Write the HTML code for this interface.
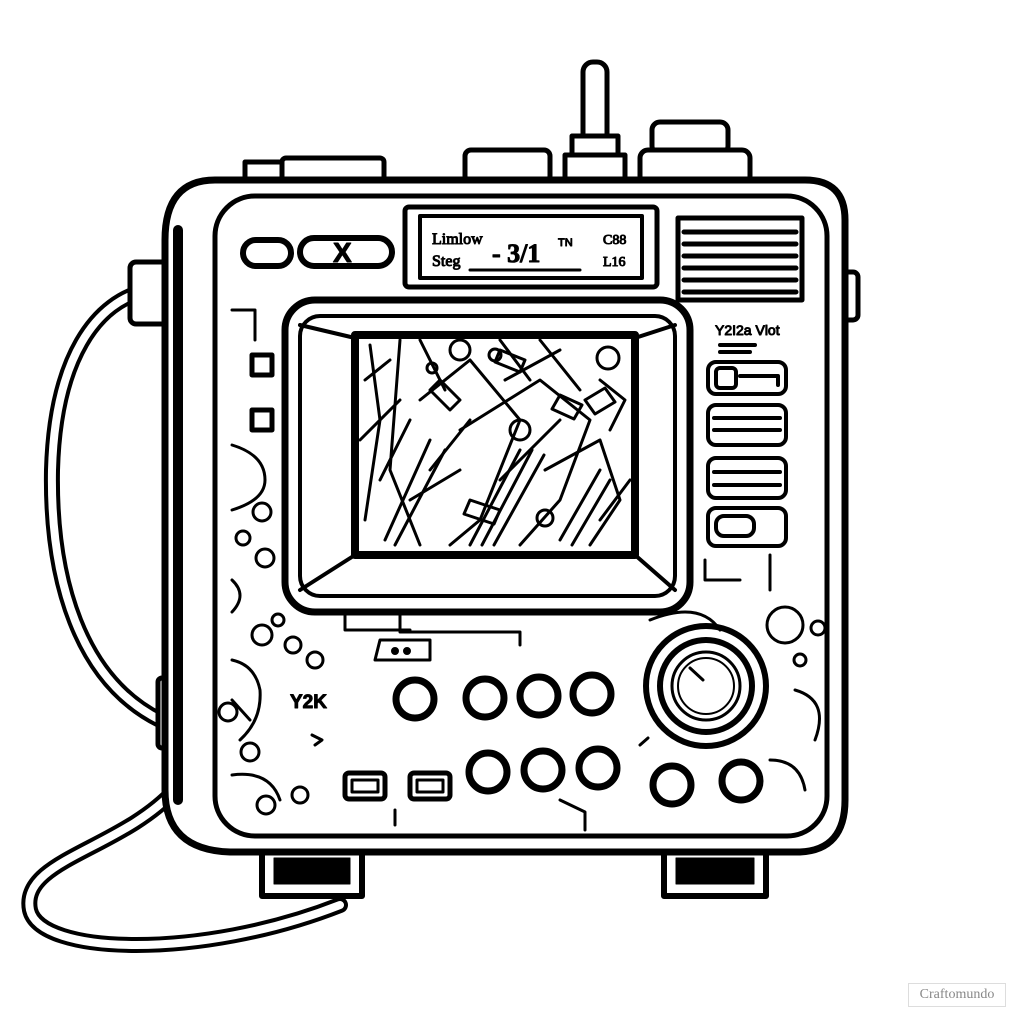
<!DOCTYPE html>
<html><head><meta charset="utf-8"><style>
html,body{margin:0;padding:0;background:#fff;width:1024px;height:1024px;overflow:hidden}
svg{display:block}
text{font-family:"Liberation Sans",sans-serif;fill:#000}
</style></head><body>
<svg width="1024" height="1024" viewBox="0 0 1024 1024" fill="none" stroke="#000" stroke-linecap="round" stroke-linejoin="round">
<!-- cable -->
<path d="M150 290 C95 300 55 360 52 470 C50 580 80 680 160 720" stroke-width="16"/>
<path d="M150 290 C95 300 55 360 52 470 C50 580 80 680 160 720" stroke="#fff" stroke-width="8"/>
<path d="M175 790 C120 850 20 860 30 910 C40 955 200 960 340 905" stroke-width="16"/>
<path d="M175 790 C120 850 20 860 30 910 C40 955 200 960 340 905" stroke="#fff" stroke-width="8"/>
<!-- top parts -->
<rect x="245" y="162" width="40" height="24" stroke-width="5" fill="#fff"/>
<rect x="282" y="158" width="102" height="28" rx="4" stroke-width="5" fill="#fff"/>
<rect x="465" y="150" width="85" height="32" rx="6" stroke-width="5" fill="#fff"/>
<rect x="583" y="62" width="24" height="92" rx="10" stroke-width="5" fill="#fff"/>
<rect x="572" y="136" width="46" height="20" stroke-width="5" fill="#fff"/>
<rect x="565" y="155" width="60" height="28" stroke-width="5" fill="#fff"/>
<rect x="652" y="122" width="76" height="32" rx="8" stroke-width="5" fill="#fff"/>
<rect x="640" y="150" width="110" height="34" rx="8" stroke-width="5" fill="#fff"/>
<!-- side brackets -->
<rect x="130" y="262" width="45" height="62" rx="6" stroke-width="5" fill="#fff"/>
<rect x="838" y="272" width="20" height="48" rx="5" stroke-width="5" fill="#fff"/>
<rect x="158" y="678" width="20" height="70" rx="4" stroke-width="5" fill="#fff"/>
<!-- feet -->
<rect x="262" y="838" width="100" height="58" stroke-width="6" fill="#fff"/>
<rect x="274" y="858" width="76" height="26" fill="#000"/>
<rect x="664" y="838" width="102" height="58" stroke-width="6" fill="#fff"/>
<rect x="676" y="858" width="78" height="26" fill="#000"/>
<!-- body -->
<path d="M215 180 H805 Q845 180 845 220 V800 Q845 850 800 852 H230 Q165 850 165 790 V240 Q165 180 215 180 Z" stroke-width="7" fill="#fff"/>
<path d="M178 230 V800" stroke-width="10"/>
<rect x="215" y="196" width="612" height="640" rx="40" stroke-width="5"/>
<!-- top row -->
<rect x="243" y="240" width="48" height="26" rx="13" stroke-width="6"/>
<rect x="300" y="238" width="92" height="28" rx="14" stroke-width="6"/>
<text x="333" y="262" font-size="28" font-weight="bold">X</text>
<rect x="405" y="207" width="252" height="80" rx="4" stroke-width="5"/>
<rect x="420" y="216" width="222" height="62" stroke-width="4"/>
<g style="font-family:'Liberation Serif',serif">
<text x="432" y="244" font-size="16" style="font-family:'Liberation Serif',serif">Limlow</text>
<text x="432" y="266" font-size="16" style="font-family:'Liberation Serif',serif">Steg</text>
<text x="603" y="244" font-size="14" style="font-family:'Liberation Serif',serif">C88</text>
<text x="603" y="266" font-size="14" style="font-family:'Liberation Serif',serif">L16</text>
</g>
<text x="492" y="262" font-size="26" font-weight="bold" style="font-family:'Liberation Serif',serif">- 3/1</text>
<text x="558" y="246" font-size="11">TN</text>
<path d="M470 270 H580" stroke-width="3"/>
<rect x="678" y="218" width="124" height="82" stroke-width="5"/>
<g stroke-width="5"><path d="M684 232H796M684 244H796M684 256H796M684 268H796M684 280H796M684 292H796"/></g>
<!-- screen -->
<rect x="285" y="300" width="405" height="312" rx="30" stroke-width="7"/>
<rect x="300" y="316" width="375" height="280" rx="20" stroke-width="4"/>
<path d="M300 325 L355 338 M675 325 L635 338 M300 590 L355 555 M675 590 L635 555" stroke-width="4"/>
<path d="M355 335 H635 V555 H355 Z" stroke-width="8"/>
<g stroke-width="3">
<path d="M370 345 L380 420 L365 520 M400 340 L390 470 L420 545 M420 400 L470 360 L520 420 L480 520 L450 545 M460 430 L540 380 L590 420 L560 500 L520 545 M500 480 L560 420 M430 470 L470 420 M545 470 L600 440 L620 500 L590 545 M600 380 L625 400 L610 430 M380 480 L410 420"/>
<path d="M385 540 L430 440 M395 545 L445 450 M470 545 L520 450 M482 545 L532 450 M494 545 L544 455 M560 540 L600 470 M572 545 L610 480 M420 340 L445 390 M500 340 L530 380 M540 340 L580 390 M360 440 L400 400 M600 520 L630 480 M410 500 L460 470 M505 380 L560 350 M365 380 L390 360"/>
<circle cx="460" cy="350" r="10"/><circle cx="520" cy="430" r="10"/><circle cx="608" cy="358" r="11"/><circle cx="545" cy="518" r="8"/><circle cx="432" cy="368" r="5"/><circle cx="495" cy="355" r="6"/>
<path d="M440 380 l20 20 l-10 10 l-20 -20z M560 395 l22 10 l-8 14 l-22 -10z M470 500 l30 10 l-6 14 l-30 -10z M585 400 l20 -12 l10 14 l-20 12z M500 350 l25 10 l-5 12 l-25 -10z"/>
</g>
<!-- left decorations -->
<rect x="252" y="355" width="20" height="20" stroke-width="5"/>
<rect x="252" y="410" width="20" height="20" stroke-width="5"/>
<g stroke-width="3">
<path d="M232 310 H255 V340 M232 445 Q265 455 265 480 Q265 500 232 510"/>
<circle cx="262" cy="512" r="9"/><circle cx="243" cy="538" r="7"/><circle cx="265" cy="558" r="9"/>
<path d="M232 580 Q248 595 232 612"/>
<circle cx="262" cy="635" r="10"/><circle cx="293" cy="645" r="8"/><circle cx="315" cy="660" r="8"/><circle cx="278" cy="620" r="6"/>
<path d="M232 660 Q255 665 260 690 Q262 720 240 740 M232 700 L250 720"/>
<circle cx="228" cy="712" r="9"/><circle cx="250" cy="752" r="9"/><circle cx="266" cy="805" r="9"/><circle cx="300" cy="795" r="8"/>
<path d="M232 775 Q270 770 280 800 M345 615 V630 H410 M400 615 V632 H520 V645 M380 640 H430 V660 H375 Z M312 735 L322 740 L315 745 M395 810 V825 M560 800 L585 812 V830"/>
<circle cx="395" cy="651" r="2.5" fill="#000"/><circle cx="407" cy="651" r="2.5" fill="#000"/>
</g>
<text x="290" y="708" font-size="19" font-weight="bold">Y2K</text>
<!-- right panel -->
<text x="715" y="335" font-size="14">Y2I2a Vlot</text>
<g stroke-width="4">
<path d="M720 345 H755 M720 352 H750"/>
<rect x="708" y="362" width="78" height="32" rx="8"/><rect x="716" y="368" width="20" height="20" rx="4"/><path d="M740 376 H778 V385"/>
<rect x="708" y="405" width="78" height="40" rx="8"/><path d="M714 418 H780 M714 430 H780"/>
<rect x="708" y="458" width="78" height="40" rx="8"/><path d="M714 472 H780 M714 485 H780"/>
<rect x="708" y="508" width="78" height="38" rx="8"/><rect x="716" y="516" width="38" height="20" rx="8"/>
</g>
<g stroke-width="3">
<path d="M705 560 V580 H740 M770 555 V590 M650 620 Q700 600 720 630"/>
<circle cx="785" cy="625" r="18"/><circle cx="818" cy="628" r="7"/><circle cx="800" cy="660" r="6"/>
<path d="M795 690 Q830 700 815 740 M770 760 Q800 760 805 790 M640 745 L648 738"/>
</g>
<!-- knob -->
<circle cx="706" cy="686" r="60" stroke-width="6"/>
<circle cx="706" cy="686" r="46" stroke-width="6"/>
<circle cx="706" cy="686" r="34" stroke-width="3"/>
<circle cx="706" cy="686" r="28" stroke-width="2"/>
<path d="M690 668 L703 680" stroke-width="3"/>
<!-- buttons -->
<g stroke-width="7">
<circle cx="415" cy="699" r="19"/><circle cx="485" cy="698" r="19"/><circle cx="539" cy="696" r="19"/><circle cx="592" cy="694" r="19"/>
<circle cx="488" cy="772" r="19"/><circle cx="543" cy="770" r="19"/><circle cx="598" cy="768" r="19"/>
<circle cx="672" cy="785" r="19"/><circle cx="741" cy="781" r="19"/>
</g>
<rect x="345" y="773" width="40" height="26" rx="4" stroke-width="5"/><rect x="352" y="780" width="26" height="12" stroke-width="3"/>
<rect x="410" y="773" width="40" height="26" rx="4" stroke-width="5"/><rect x="417" y="780" width="26" height="12" stroke-width="3"/>
</svg>
<div style="position:absolute;left:908px;top:983px;width:96px;height:22px;border:1px solid #ddd;font:14px 'Liberation Serif',serif;color:#888;text-align:center;line-height:22px">Craftomundo</div>
</body></html>
